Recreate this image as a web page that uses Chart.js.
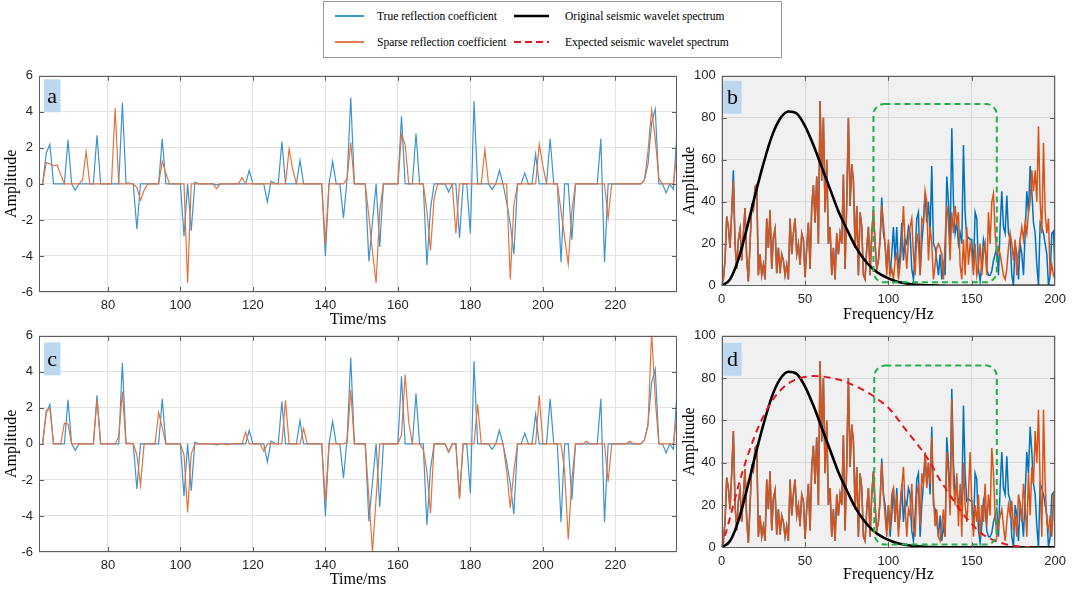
<!DOCTYPE html>
<html><head><meta charset="utf-8">
<script src="https://cdn.jsdelivr.net/npm/chart.js@4.4.1/dist/chart.umd.min.js"></script>
<style>
html,body{margin:0;padding:0;background:#fff;}
body{width:1072px;height:593px;position:relative;overflow:hidden;font-family:"Liberation Serif","Times New Roman",serif;}
canvas{position:absolute;}
.lt{position:absolute;font-size:11.5px;line-height:14px;color:#000;white-space:nowrap;}
.ls{position:absolute;}
#lbox{position:absolute;left:323px;top:1px;width:459px;height:57px;border:1px solid #9a9a9a;box-sizing:border-box;background:#fff;}
</style></head><body>
<div id="lbox"></div>
<svg class="ls" style="left:334px;top:10px" width="32" height="12"><line x1="1" y1="6" x2="30" y2="6" stroke="#0072BD" stroke-width="1.5"/></svg>
<div class="lt" style="left:377px;top:9px">True reflection coefficient</div>
<svg class="ls" style="left:334px;top:36px" width="32" height="12"><line x1="1" y1="6" x2="30" y2="6" stroke="#D95319" stroke-width="1.5"/></svg>
<div class="lt" style="left:377px;top:35px">Sparse reflection coefficient</div>
<svg class="ls" style="left:512px;top:10px" width="40" height="12"><line x1="2" y1="6" x2="37" y2="6" stroke="#000" stroke-width="2.5"/></svg>
<div class="lt" style="left:565px;top:9px">Original seismic wavelet spectrum</div>
<svg class="ls" style="left:512px;top:36px" width="40" height="12"><line x1="2" y1="6" x2="37" y2="6" stroke="#e4191f" stroke-width="2" stroke-dasharray="7,4"/></svg>
<div class="lt" style="left:565px;top:35px">Expected seismic wavelet spectrum</div>

<canvas id="ca" width="680" height="270" style="left:0;top:62px"></canvas>
<canvas id="cc" width="680" height="271" style="left:0;top:322px"></canvas>
<canvas id="cb" width="394" height="270" style="left:678px;top:62px"></canvas>
<canvas id="cd" width="394" height="271" style="left:678px;top:322px"></canvas>

<script>
// ---------- data ----------
const timeStart = 62; // ms, one sample per ms
const timeTicks = [80, 100, 120, 140, 160, 180, 200, 220];
const ampTicks = [-6, -4, -2, 0, 2, 4, 6];
const freqTicks = [0, 50, 100, 150, 200];
const specTicks = [0, 20, 40, 60, 80, 100];

const trueRefl = [
 0,1.7,2.2,0,0,0,0,2.45,0,-0.35,
 0,0,0,0,0,2.7,0,0,0,0,
 0,0,4.5,0.05,0.05,0,-2.5,0,0,0,
 0,0,0,2.5,0,0,0,0,0,-2.9,
 0,-2.6,0.1,0,0,0,0,0,-0.05,0,
 0,0,0,0,0,0,0,0.75,0,0,
 0,0,-1.0,0.15,0.05,0,2.35,0,0,0,
 0,1.3,0,0,0,0,0,0,-4.0,0,
 1.25,0,0,-1.9,0.3,4.8,0,0,0,0,
 -4.3,-2.1,0,-3.5,0,0,0,0,0,3.75,
 0,0,0,2.8,0,0,-4.5,-1.4,0,0,
 0,0,-0.45,0,0,-3.0,0,0,-2.75,4.6,
 0,0,0,0,-0.3,0,0.75,0,-1.0,-2.2,
 -3.9,0,0,0.6,0,0,1.65,0,0,0,
 2.5,0,0,-4.35,0,0,-3.1,0,0,0,
 0,0,0,0,2.5,-4.35,0,0,0,0,
 0,0,0,0,0,0,0.2,1.1,3.4,4.15,
 0,0,-0.5,0,-0.3,2.9];

const sparseReflA = [
 0,1.2,1.1,1.0,1.05,0.5,0,0,0,0,
 0,0.2,1.8,0,0,0,0,0,0,0,
 4.2,0,0,0,0,0,-0.2,-0.9,-0.35,0,
 0,0,0,1.25,0.6,0,0,0,0,0,
 -5.5,0,0,0,0,0,0,0,-0.27,0,
 0,0,0,0,0,0.35,0,0,0,0,
 0,0,0,0,0,0,0,0,1.93,0.8,
 0,0,0,0,0,0,0,0,-3.3,0,
 0,0,0,0,0.3,2.3,0,0,0,0,
 -1.8,-3.8,-5.5,-1.5,0,0,0,0,0,2.75,
 2.2,0,0,0,0,0,-1.5,-3.7,-0.8,0,
 0,0,0,0,-2.75,0,0,0,0,0,
 0,0,1.9,0,0,0,0,0,0,-5.3,
 -1.2,0,0,0,0,0,0,2.2,1.0,0,
 0,0,0,-1.5,-3.0,-4.45,-1.5,0,0,0,
 0,0,0,0,0,0,-1.9,0,0,0,
 0,0,0,0,0,0,0.2,1.8,4.1,2.5,
 0.3,0,0,0,0,1.8];

const sparseReflC = [
 0,1.85,1.95,0,0,0,1.15,1.1,0,0,
 0,0,0,0,0,2.45,0,0,0,0,
 0,0.4,2.9,0,0,0,-0.6,-2.3,0,0,
 0,0,1.75,0.9,0,0,0,0,0,-0.6,
 -3.8,-0.55,0,0,0,0,0,0,0,0,
 0,-0.05,0,0,0,0,0.65,0,0,0,
 0,-0.4,0,0,0,0,0,2.42,0,0,
 0,0,0.85,0,0,0,0,0,-3.2,0,
 0,0,0,0,0.1,3.0,0,0,0,0,
 -3.0,-6.0,-3.0,0,0,0,0,0,0,0.5,
 3.85,1.2,0,0,0,-0.3,-1.5,-3.85,0,0,
 0,0,-0.45,0,0,-3.05,0,0,0,0,
 2.2,0,0,0,0,0,0,0,-1.5,-3.55,
 -1.5,0,0,0,0,0,0,2.7,0,0,
 0,0,0,0,-1.5,-5.3,-2.0,0,0,0,
 0.15,0,0,0,0,0,-2.1,0,0,0,
 0,0,0.15,0,0,0,0.2,1.0,6.2,2.5,
 0,0,0,0,0,1.6];

// spectra, one value per Hz from 0 to 200 Hz
const trueSpec = [
 0,3,12,33,28,18,35,55,20,8,
 22,27,12,25,37,13,2,20,38,36,
 47,48,5,15,5,10,3,32,18,36,
 8,23,27,6,18,6,15,12,5,10,
 3,32,15,25,32,15,20,10,25,22,
 4,18,30,8,38,48,30,52,20,88,
 50,80,35,60,20,28,5,18,3,25,
 15,25,20,53,8,40,80,38,58,50,
 18,38,5,35,28,5,3,18,28,5,
 25,36,20,8,12,22,42,25,20,8,
 20,5,15,28,12,28,8,15,30,12,
 22,20,28,25,8,3,15,32,35,5,
 20,30,44,30,40,25,57,20,18,12,
 5,15,3,10,5,52,40,20,75,40,
 25,30,20,25,20,67,35,22,23,22,
 22,8,35,32,8,2,10,22,18,8,
 5,5,7,12,15,18,5,28,45,28,
 25,43,25,22,5,0,20,15,3,20,
 15,5,25,45,35,57,45,30,25,10,
 0,30,28,25,20,15,0,5,25,26,
 3];

const sparseSpecB = [
 0,3,12,33,28,18,35,50,20,8,
 22,27,12,25,37,13,2,20,38,36,
 47,48,5,15,5,10,3,32,18,36,
 8,23,27,6,18,6,15,12,5,10,
 3,32,15,25,32,15,20,10,25,22,
 4,18,30,8,38,48,30,52,20,88,
 50,80,35,60,20,28,5,18,3,25,
 15,25,20,53,8,40,80,38,58,50,
 18,38,5,35,28,5,3,18,28,5,
 25,36,20,8,12,22,38,30,20,5,
 22,5,8,3,12,15,3,10,20,38,
 20,8,22,28,32,15,5,25,20,5,
 32,30,45,40,12,28,20,3,10,18,
 20,18,15,3,22,38,30,12,35,25,
 38,30,35,10,3,22,5,28,10,20,
 15,5,20,5,10,20,5,15,20,5,
 35,20,40,44,25,15,18,15,10,5,
 3,8,18,25,20,12,22,5,15,22,
 28,22,30,25,35,40,55,45,55,40,
 76,40,25,68,35,25,32,5,10,5,
 3];

const sparseSpecD = [
 0,3,12,33,28,18,35,55,20,8,
 22,27,12,25,37,13,2,20,38,36,
 47,48,5,15,5,10,3,32,18,36,
 8,23,27,6,18,6,15,12,5,10,
 3,32,15,25,32,15,20,10,25,22,
 4,18,30,8,38,48,30,52,20,88,
 50,80,35,60,20,28,5,18,3,25,
 15,25,20,53,8,40,80,38,58,50,
 18,38,5,35,28,5,3,18,28,5,
 25,36,20,8,12,22,40,25,15,5,
 20,8,25,28,12,25,5,20,28,38,
 20,5,18,15,30,10,5,25,30,10,
 35,30,45,28,40,30,52,25,10,18,
 5,3,10,18,5,45,35,15,70,30,
 20,35,10,30,5,40,20,12,25,45,
 20,5,20,12,25,5,20,12,30,10,
 25,15,47,35,15,5,10,15,18,10,
 3,12,20,15,22,8,15,5,25,20,
 12,30,20,5,35,15,38,30,55,40,
 65,30,5,65,30,12,8,15,5,25,
 27];

const waveletFreq = [0,5,10,15,20,25,30,35,40,45,50,55,60,65,70,75,80,85,90,95,100,105,110,115,120,125,130,135,140,150,160,170,180,190,200];
const originalWavelet = [0,3,12.5,27,43,58,71,79.5,83,82,76,67,56.5,46,35.5,27,19,13,8.5,5.5,3.5,2,1.2,0.6,0.3,0.15,0.05,0,0,0,0,0,0,0,0];
const expectedFreq = [0,5,10,15,20,25,30,35,40,45,50,55,60,65,70,75,80,85,90,95,100,105,110,115,120,125,130,135,140,145,150,155,160,165,170,175,180,185];
const expectedWavelet = [0,14,29,42,53,62,69,74,77.5,79.5,80.5,81,80.8,80.2,79.3,78,76.3,74.3,72,69.2,66,61.2,56,51,46,40,33,27,21,15.5,11,7,4.5,2.8,1.5,0.7,0.3,0];

// highlighted frequency windows (Hz / amplitude)
const boxB = {x0: 91, x1: 165, y0: 1.6, y1: 86.6};
const boxD = {x0: 91.5, x1: 165, y0: 1.3, y1: 85.9};

// ---------- drawing ----------
const SANS = '"Liberation Sans", Arial, sans-serif';
const SERIF = '"Liberation Serif", "Times New Roman", serif';

const panelPlugin = {
  id: 'panel',
  beforeDraw(chart, args, o) {
    const {ctx, chartArea: a} = chart;
    if (o.bg) {
      ctx.save(); ctx.fillStyle = o.bg;
      ctx.fillRect(a.left, a.top, a.right - a.left, a.bottom - a.top);
      ctx.restore();
    }
  },
  afterDatasetsDraw(chart, args, o) {
    const {ctx, chartArea: a, scales: {x, y}} = chart;
    ctx.save();
    if (o.box) {
      const b = o.box;
      const x0 = x.getPixelForValue(b.x0), x1 = x.getPixelForValue(b.x1);
      const y0 = y.getPixelForValue(b.y1), y1 = y.getPixelForValue(b.y0);
      ctx.strokeStyle = '#22b04a'; ctx.lineWidth = 2; ctx.setLineDash([6, 4]);
      ctx.beginPath(); ctx.roundRect(x0, y0, x1 - x0, y1 - y0, 11); ctx.stroke();
      ctx.setLineDash([]);
    }
    ctx.strokeStyle = '#5e5e5e'; ctx.lineWidth = 1;
    ctx.strokeRect(Math.round(a.left) + 0.5, Math.round(a.top) + 0.5,
      Math.round(a.right - a.left) - 1, Math.round(a.bottom - a.top) - 1);
    const L = 5;
    ctx.beginPath();
    x.ticks.forEach(t => {
      const p = Math.round(x.getPixelForValue(t.value)) + 0.5;
      if (p <= a.left + 2 || p >= a.right - 2) return;
      ctx.moveTo(p, a.bottom); ctx.lineTo(p, a.bottom - L);
      ctx.moveTo(p, a.top); ctx.lineTo(p, a.top + L);
    });
    y.ticks.forEach(t => {
      const p = Math.round(y.getPixelForValue(t.value)) + 0.5;
      if (p <= a.top + 2 || p >= a.bottom - 2) return;
      ctx.moveTo(a.left, p); ctx.lineTo(a.left + L, p);
      ctx.moveTo(a.right, p); ctx.lineTo(a.right - L, p);
    });
    ctx.stroke();
    ctx.fillStyle = '#bdd7ee';
    ctx.fillRect(a.left + o.lx, a.top + o.ly, o.lw, o.lh);
    ctx.fillStyle = '#000'; ctx.font = '22px ' + SERIF;
    ctx.textAlign = 'center'; ctx.textBaseline = 'middle';
    ctx.fillText(o.label, a.left + o.lx + o.lw / 2, a.top + o.ly + o.lh / 2 + 1);
    ctx.restore();
  }
};

function axis(min, max, ticks, size, title, titlePad, isX, gridColor) {
  return {
    type: 'linear', min, max,
    afterBuildTicks: s => { s.ticks = ticks.map(v => ({value: v})); },
    afterFit: s => { if (isX) s.height = size; else s.width = size; },
    grid: {color: gridColor, lineWidth: 1, drawTicks: false},
    border: {display: false},
    ticks: {padding: 6, color: '#262626', font: {family: SANS, size: 13}, maxRotation: 0, autoSkip: false},
    title: {display: true, text: title, color: '#000', font: {family: SERIF, size: 16},
      padding: isX ? {top: 0, bottom: titlePad} : {top: titlePad, bottom: 0}}
  };
}

function timeChart(id, sparse, label, xh, xTitlePad, lblY) {
  const pts = arr => arr.map((v, i) => ({x: timeStart + i, y: v}));
  new Chart(document.getElementById(id), {
    type: 'line',
    data: {datasets: [
      {data: pts(sparse), borderColor: '#e2733f', borderWidth: 1.2, pointRadius: 0, tension: 0, order: 0},
      {data: pts(trueRefl), borderColor: '#3f93cf', borderWidth: 1.2, pointRadius: 0, tension: 0, order: 1}
    ]},
    options: {
      responsive: false, animation: false, events: [],
      layout: {padding: {left: 0, right: 3, top: 10.7, bottom: 0}},
      plugins: {legend: {display: false}, tooltip: {enabled: false},
        panel: {label, lx: 5, ly: lblY, lw: 16.5, lh: 33}},
      scales: {
        x: axis(61, 237, timeTicks, xh, 'Time/ms', xTitlePad, true, '#e3e3e3'),
        y: axis(-6, 6, ampTicks, 39, 'Amplitude', 2, false, '#e3e3e3')
      }
    },
    plugins: [panelPlugin]
  });
}

function specChart(id, sparse, label, top, xh, xTitlePad, box, withExpected, lblY) {
  const pts = arr => arr.map((v, i) => ({x: i, y: v}));
  const sets = [];
  if (withExpected) sets.push({data: expectedFreq.map((f, i) => ({x: f, y: expectedWavelet[i]})),
    borderColor: '#e4191f', borderWidth: 2, borderDash: [7, 5], pointRadius: 0, cubicInterpolationMode: 'monotone', order: 0});
  sets.push({data: waveletFreq.map((f, i) => ({x: f, y: originalWavelet[i]})),
    borderColor: '#000', borderWidth: 2.6, pointRadius: 0, cubicInterpolationMode: 'monotone', order: 1});
  sets.push({data: pts(sparse), borderColor: '#D95319', borderWidth: 1.5, pointRadius: 0, tension: 0, order: 2});
  sets.push({data: pts(trueSpec), borderColor: '#0072BD', borderWidth: 1.5, pointRadius: 0, tension: 0, order: 3});
  new Chart(document.getElementById(id), {
    type: 'line',
    data: {datasets: sets},
    options: {
      responsive: false, animation: false, events: [],
      layout: {padding: {left: 0, right: 11, top, bottom: 0}},
      plugins: {legend: {display: false}, tooltip: {enabled: false},
        panel: {label, bg: '#f0f0f0', box, lx: 1.5, ly: lblY, lw: 18.5, lh: 33}},
      scales: {
        x: axis(0, 200, freqTicks, xh, 'Frequency/Hz', xTitlePad, true, '#d7d7d7'),
        y: axis(0, 100, specTicks, 43.7, 'Amplitude', 2, false, '#d7d7d7')
      }
    },
    plugins: [panelPlugin]
  });
}

timeChart('ca', sparseReflA, 'a', 40, 2.4, 3.5);
timeChart('cc', sparseReflC, 'c', 41, 3.4, 6.5);
specChart('cb', sparseSpecB, 'b', 12, 46.3, 7.4, boxB, false, 5);
specChart('cd', sparseSpecD, 'd', 13, 45.7, 8.4, boxD, true, 7);
</script>
</body></html>
